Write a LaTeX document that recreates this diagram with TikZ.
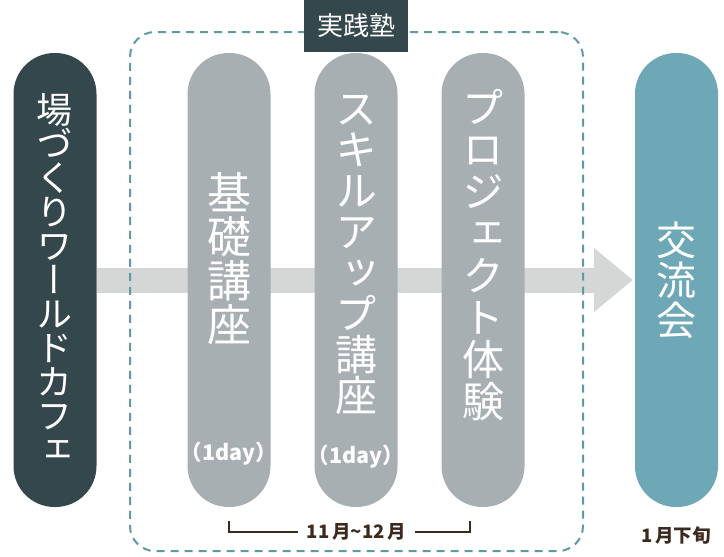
\documentclass[tikz,border=0pt]{standalone}
\usepackage{fontspec}
\setmainfont{Noto Sans CJK JP}
\newfontfamily\jpvert[RawFeature=+vert]{Noto Sans CJK JP}
\usetikzlibrary{arrows.meta,positioning,backgrounds}
\definecolor{wcdark}{RGB}{52,71,77}
\definecolor{wcgray}{RGB}{168,175,179}
\definecolor{wcteal}{RGB}{110,168,183}
\definecolor{wcdash}{RGB}{95,153,166}
\definecolor{wcarrow}{RGB}{213,214,214}
\definecolor{wcbrown}{RGB}{60,42,30}

\begin{document}
\begin{tikzpicture}[x=1pt,y=-1pt,
  pill/.style={rectangle, rounded corners=41pt, minimum width=83pt, minimum height=454pt, inner sep=0pt},
  vtext/.style={white, align=center, inner sep=0pt},
  datetext/.style={wcbrown, inner sep=0pt, font=\bfseries\fontsize{18.5}{18.5}\selectfont}]
\useasboundingbox (0,0) rectangle (724,557);
% Dashed frame and its label
\node[draw=wcdash, line width=2pt, dash pattern=on 8pt off 6pt, rounded corners=25pt,
  minimum width=453pt, minimum height=519pt, inner sep=0pt] (juku) at (356.5,291.5) {};
\node[fill=wcdark, text=white, minimum width=104pt, minimum height=52pt, inner sep=0pt,
  font=\fontsize{26}{26}\selectfont] (jukulabel) at (356,26) {実践塾};
% Pills
\node[pill, fill=wcdark] (cafe) at (55,280) {};
\node[pill, fill=wcgray] (kiso) at (229,280) {};
\node[pill, fill=wcgray] (skill) at (356,280) {};
\node[pill, fill=wcgray] (proj) at (483,280) {};
\node[pill, fill=wcteal] (koryu) at (676.5,280) {};
% Arrow behind the pills
\begin{scope}[on background layer]
\draw[wcarrow, line width=25pt, -{Triangle[length=39pt,width=62pt]}, shorten >=2pt] (cafe) -- (koryu);
\end{scope}
% Vertical texts
\node[vtext, font={\jpvert\fontsize{36}{34}\selectfont\lineskiplimit=-50pt}] (cafetext) at (55,278.5)
  {場\\づ\\く\\り\\ワ\\ー\\ル\\ド\\カ\\フ\\ェ};
\node[vtext, font={\jpvert\fontsize{44}{44}\selectfont\lineskiplimit=-50pt}] (kisotext) at (229,259)
  {基\\礎\\講\\座};
\node[vtext, font={\jpvert\fontsize{42}{41}\selectfont\lineskiplimit=-50pt}] (skilltext) at (356,254.5)
  {ス\\キ\\ル\\ア\\ッ\\プ\\講\\座};
\node[vtext, font={\jpvert\fontsize{42}{42}\selectfont\lineskiplimit=-50pt}] (projtext) at (483,255.5)
  {プ\\ロ\\ジ\\ェ\\ク\\ト\\体\\験};
\node[vtext, font={\jpvert\fontsize{40}{40}\selectfont\lineskiplimit=-50pt}] (koryutext) at (676.5,280)
  {交\\流\\会};
% (1day)
\node[white, font=\bfseries\fontsize{21.5}{21.5}\selectfont] (kisoday) at (229,454) {（1day）};
\node[white, font=\bfseries\fontsize{21.5}{21.5}\selectfont] (skillday) at (356,457) {（1day）};
% Period bracket
\node[datetext] (period) at (356.5,532) {11\,月\textasciitilde12\,月};
\coordinate (kisoend) at (229,521);
\coordinate (projend) at (470,521);
\draw[wcbrown, line width=1.3pt] (kisoend) |- ([xshift=-9pt]period.west);
\draw[wcbrown, line width=1.3pt] ([xshift=9pt]period.east) -| (projend);
\node[datetext] (koryudate) at (676,535) {1\,月下旬};
\end{tikzpicture}
\end{document}
